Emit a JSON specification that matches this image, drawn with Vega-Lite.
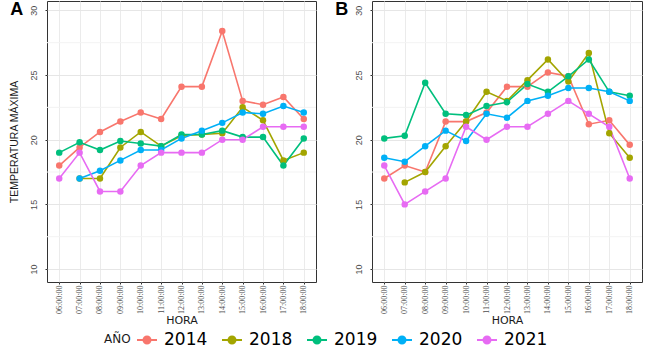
{
  "$schema": "https://vega.github.io/schema/vega-lite/v6.json",
  "padding": {"left": 8, "top": 0, "right": 4, "bottom": 0},
  "datasets": {
    "minor": [{"v": 12.5}, {"v": 17.5}, {"v": 22.5}, {"v": 27.5}],
    "temps": [
      {"p":"A","y":"2014","h":"06:00:00","t":18.0},{"p":"A","y":"2014","h":"07:00:00","t":19.4},{"p":"A","y":"2014","h":"08:00:00","t":20.6},{"p":"A","y":"2014","h":"09:00:00","t":21.4},{"p":"A","y":"2014","h":"10:00:00","t":22.1},{"p":"A","y":"2014","h":"11:00:00","t":21.6},{"p":"A","y":"2014","h":"12:00:00","t":24.1},{"p":"A","y":"2014","h":"13:00:00","t":24.1},{"p":"A","y":"2014","h":"14:00:00","t":28.4},{"p":"A","y":"2014","h":"15:00:00","t":23.0},{"p":"A","y":"2014","h":"16:00:00","t":22.7},{"p":"A","y":"2014","h":"17:00:00","t":23.3},{"p":"A","y":"2014","h":"18:00:00","t":21.6},
      {"p":"A","y":"2018","h":"07:00:00","t":17.0},{"p":"A","y":"2018","h":"08:00:00","t":17.0},{"p":"A","y":"2018","h":"09:00:00","t":19.4},{"p":"A","y":"2018","h":"10:00:00","t":20.6},{"p":"A","y":"2018","h":"11:00:00","t":19.5},{"p":"A","y":"2018","h":"12:00:00","t":20.3},{"p":"A","y":"2018","h":"13:00:00","t":20.4},{"p":"A","y":"2018","h":"14:00:00","t":20.5},{"p":"A","y":"2018","h":"15:00:00","t":22.5},{"p":"A","y":"2018","h":"16:00:00","t":21.5},{"p":"A","y":"2018","h":"17:00:00","t":18.4},{"p":"A","y":"2018","h":"18:00:00","t":19.0},
      {"p":"A","y":"2019","h":"06:00:00","t":19.0},{"p":"A","y":"2019","h":"07:00:00","t":19.8},{"p":"A","y":"2019","h":"08:00:00","t":19.2},{"p":"A","y":"2019","h":"09:00:00","t":19.9},{"p":"A","y":"2019","h":"10:00:00","t":19.7},{"p":"A","y":"2019","h":"11:00:00","t":19.5},{"p":"A","y":"2019","h":"12:00:00","t":20.4},{"p":"A","y":"2019","h":"13:00:00","t":20.4},{"p":"A","y":"2019","h":"14:00:00","t":20.7},{"p":"A","y":"2019","h":"15:00:00","t":20.2},{"p":"A","y":"2019","h":"16:00:00","t":20.2},{"p":"A","y":"2019","h":"17:00:00","t":18.0},{"p":"A","y":"2019","h":"18:00:00","t":20.1},
      {"p":"A","y":"2020","h":"07:00:00","t":17.0},{"p":"A","y":"2020","h":"08:00:00","t":17.6},{"p":"A","y":"2020","h":"09:00:00","t":18.4},{"p":"A","y":"2020","h":"10:00:00","t":19.2},{"p":"A","y":"2020","h":"11:00:00","t":19.2},{"p":"A","y":"2020","h":"12:00:00","t":20.1},{"p":"A","y":"2020","h":"13:00:00","t":20.7},{"p":"A","y":"2020","h":"14:00:00","t":21.3},{"p":"A","y":"2020","h":"15:00:00","t":22.1},{"p":"A","y":"2020","h":"16:00:00","t":22.0},{"p":"A","y":"2020","h":"17:00:00","t":22.6},{"p":"A","y":"2020","h":"18:00:00","t":22.1},
      {"p":"A","y":"2021","h":"06:00:00","t":17.0},{"p":"A","y":"2021","h":"07:00:00","t":19.0},{"p":"A","y":"2021","h":"08:00:00","t":16.0},{"p":"A","y":"2021","h":"09:00:00","t":16.0},{"p":"A","y":"2021","h":"10:00:00","t":18.0},{"p":"A","y":"2021","h":"11:00:00","t":19.0},{"p":"A","y":"2021","h":"12:00:00","t":19.0},{"p":"A","y":"2021","h":"13:00:00","t":19.0},{"p":"A","y":"2021","h":"14:00:00","t":20.0},{"p":"A","y":"2021","h":"15:00:00","t":20.0},{"p":"A","y":"2021","h":"16:00:00","t":21.0},{"p":"A","y":"2021","h":"17:00:00","t":21.0},{"p":"A","y":"2021","h":"18:00:00","t":21.0},
      {"p":"B","y":"2014","h":"06:00:00","t":17.0},{"p":"B","y":"2014","h":"07:00:00","t":18.0},{"p":"B","y":"2014","h":"08:00:00","t":17.5},{"p":"B","y":"2014","h":"09:00:00","t":21.4},{"p":"B","y":"2014","h":"10:00:00","t":21.4},{"p":"B","y":"2014","h":"11:00:00","t":22.1},{"p":"B","y":"2014","h":"12:00:00","t":24.1},{"p":"B","y":"2014","h":"13:00:00","t":24.1},{"p":"B","y":"2014","h":"14:00:00","t":25.2},{"p":"B","y":"2014","h":"15:00:00","t":24.9},{"p":"B","y":"2014","h":"16:00:00","t":21.2},{"p":"B","y":"2014","h":"17:00:00","t":21.5},{"p":"B","y":"2014","h":"18:00:00","t":19.6},
      {"p":"B","y":"2018","h":"07:00:00","t":16.7},{"p":"B","y":"2018","h":"08:00:00","t":17.5},{"p":"B","y":"2018","h":"09:00:00","t":19.5},{"p":"B","y":"2018","h":"10:00:00","t":21.4},{"p":"B","y":"2018","h":"11:00:00","t":23.7},{"p":"B","y":"2018","h":"12:00:00","t":23.0},{"p":"B","y":"2018","h":"13:00:00","t":24.6},{"p":"B","y":"2018","h":"14:00:00","t":26.2},{"p":"B","y":"2018","h":"15:00:00","t":24.5},{"p":"B","y":"2018","h":"16:00:00","t":26.7},{"p":"B","y":"2018","h":"17:00:00","t":20.5},{"p":"B","y":"2018","h":"18:00:00","t":18.6},
      {"p":"B","y":"2019","h":"06:00:00","t":20.1},{"p":"B","y":"2019","h":"07:00:00","t":20.3},{"p":"B","y":"2019","h":"08:00:00","t":24.4},{"p":"B","y":"2019","h":"09:00:00","t":22.0},{"p":"B","y":"2019","h":"10:00:00","t":21.9},{"p":"B","y":"2019","h":"11:00:00","t":22.6},{"p":"B","y":"2019","h":"12:00:00","t":22.9},{"p":"B","y":"2019","h":"13:00:00","t":24.3},{"p":"B","y":"2019","h":"14:00:00","t":23.7},{"p":"B","y":"2019","h":"15:00:00","t":24.9},{"p":"B","y":"2019","h":"16:00:00","t":26.2},{"p":"B","y":"2019","h":"17:00:00","t":23.7},{"p":"B","y":"2019","h":"18:00:00","t":23.4},
      {"p":"B","y":"2020","h":"06:00:00","t":18.6},{"p":"B","y":"2020","h":"07:00:00","t":18.3},{"p":"B","y":"2020","h":"08:00:00","t":19.5},{"p":"B","y":"2020","h":"09:00:00","t":20.7},{"p":"B","y":"2020","h":"10:00:00","t":19.9},{"p":"B","y":"2020","h":"11:00:00","t":22.0},{"p":"B","y":"2020","h":"12:00:00","t":21.7},{"p":"B","y":"2020","h":"13:00:00","t":23.0},{"p":"B","y":"2020","h":"14:00:00","t":23.4},{"p":"B","y":"2020","h":"15:00:00","t":24.0},{"p":"B","y":"2020","h":"16:00:00","t":24.0},{"p":"B","y":"2020","h":"17:00:00","t":23.7},{"p":"B","y":"2020","h":"18:00:00","t":23.0},
      {"p":"B","y":"2021","h":"06:00:00","t":18.0},{"p":"B","y":"2021","h":"07:00:00","t":15.0},{"p":"B","y":"2021","h":"08:00:00","t":16.0},{"p":"B","y":"2021","h":"09:00:00","t":17.0},{"p":"B","y":"2021","h":"10:00:00","t":21.0},{"p":"B","y":"2021","h":"11:00:00","t":20.0},{"p":"B","y":"2021","h":"12:00:00","t":21.0},{"p":"B","y":"2021","h":"13:00:00","t":21.0},{"p":"B","y":"2021","h":"14:00:00","t":22.0},{"p":"B","y":"2021","h":"15:00:00","t":23.0},{"p":"B","y":"2021","h":"16:00:00","t":22.0},{"p":"B","y":"2021","h":"17:00:00","t":21.0},{"p":"B","y":"2021","h":"18:00:00","t":17.0}
    ]
  },
  "spacing": 17,
  "hconcat": [
    {
      "width": 269,
      "height": 281,
      "layer": [
        {
          "data": {"name": "minor"},
          "mark": {"type": "rule", "color": "#f3f3f3", "strokeWidth": 1},
          "encoding": {
            "y": {"field": "v", "type": "quantitative", "scale": {"domain": [9, 30.72], "nice": false, "zero": false}}
          }
        },
        {
          "data": {"name": "temps"},
          "transform": [{"filter": "datum.p === 'A'"}],
          "mark": {"type": "line", "strokeWidth": 1.6},
          "encoding": {
            "x": {"field": "h", "type": "ordinal", "scale": {"type": "point", "padding": 0.6}, "axis": {"title": "HORA", "labelOverlap": false}},
            "y": {"field": "t", "type": "quantitative", "scale": {"domain": [9, 30.72], "nice": false, "zero": false}, "axis": {"title": "TEMPERATURA MÁXIMA", "values": [10, 15, 20, 25, 30], "labelOverlap": false, "labelBound": false}},
            "color": {"field": "y", "type": "nominal", "title": "AÑO"}
          }
        },
        {
          "data": {"name": "temps"},
          "transform": [{"filter": "datum.p === 'A'"}],
          "mark": {"type": "point", "filled": true, "size": 42, "opacity": 1},
          "encoding": {
            "x": {"field": "h", "type": "ordinal"},
            "y": {"field": "t", "type": "quantitative"},
            "color": {"field": "y", "type": "nominal", "title": "AÑO"}
          }
        },
        {
          "data": {"values": [{"lbl": "A"}]},
          "mark": {"type": "text", "align": "left", "baseline": "top", "dx": -49, "fontSize": 18, "fontWeight": "bold", "font": "Liberation Sans", "color": "black", "clip": false},
          "encoding": {
            "text": {"field": "lbl"},
            "x": {"datum": "06:00:00", "type": "ordinal"},
            "y": {"datum": 30.72, "type": "quantitative"}
          }
        }
      ]
    },
    {
      "width": 270,
      "height": 281,
      "layer": [
        {
          "data": {"name": "minor"},
          "mark": {"type": "rule", "color": "#f3f3f3", "strokeWidth": 1},
          "encoding": {
            "y": {"field": "v", "type": "quantitative", "scale": {"domain": [9, 30.72], "nice": false, "zero": false}}
          }
        },
        {
          "data": {"name": "temps"},
          "transform": [{"filter": "datum.p === 'B'"}],
          "mark": {"type": "line", "strokeWidth": 1.6},
          "encoding": {
            "x": {"field": "h", "type": "ordinal", "scale": {"type": "point", "padding": 0.6}, "axis": {"title": "HORA", "labelOverlap": false}},
            "y": {"field": "t", "type": "quantitative", "scale": {"domain": [9, 30.72], "nice": false, "zero": false}, "axis": {"title": null, "values": [10, 15, 20, 25, 30], "labelOverlap": false, "labelBound": false}},
            "color": {"field": "y", "type": "nominal", "title": "AÑO"}
          }
        },
        {
          "data": {"name": "temps"},
          "transform": [{"filter": "datum.p === 'B'"}],
          "mark": {"type": "point", "filled": true, "size": 42, "opacity": 1},
          "encoding": {
            "x": {"field": "h", "type": "ordinal"},
            "y": {"field": "t", "type": "quantitative"},
            "color": {"field": "y", "type": "nominal", "title": "AÑO"}
          }
        },
        {
          "data": {"values": [{"lbl": "B"}]},
          "mark": {"type": "text", "align": "left", "baseline": "top", "dx": -49, "fontSize": 18, "fontWeight": "bold", "font": "Liberation Sans", "color": "black", "clip": false},
          "encoding": {
            "text": {"field": "lbl"},
            "x": {"datum": "06:00:00", "type": "ordinal"},
            "y": {"datum": 30.72, "type": "quantitative"}
          }
        }
      ]
    }
  ],
  "resolve": {"scale": {"color": "shared"}},
  "config": {
    "font": "Liberation Sans",
    "view": {"stroke": "#333333", "strokeWidth": 1},
    "range": {"category": ["#F8766D", "#A3A500", "#00BF7D", "#00B0F6", "#E76BF3"]},
    "axis": {
      "domain": false,
      "grid": true,
      "gridColor": "#e6e6e6",
      "labelColor": "#4d4d4d",
      "labelFont": "Liberation Sans",
      "labelFontSize": 9,
      "tickColor": "#333333",
      "tickSize": 2,
      "titleFontWeight": "normal",
      "titleColor": "#1a1a1a"
    },
    "axisX": {
      "labelAngle": -90,
      "labelAlign": "right",
      "labelBaseline": "middle",
      "labelPadding": 1,
      "labelFont": "Liberation Sans Narrow",
      "labelFontSize": 8,
      "gridColor": "#ebebeb",
      "titleFont": "DejaVu Sans",
      "titleFontSize": 11,
      "titlePadding": 1
    },
    "axisY": {
      "labelAngle": -90,
      "labelAlign": "center",
      "labelBaseline": "bottom",
      "labelPadding": 7,
      "titleFontSize": 10.5,
      "titlePadding": 10
    },
    "legend": {
      "orient": "bottom",
      "direction": "horizontal",
      "titleOrient": "left",
      "titleFont": "DejaVu Sans",
      "titleFontSize": 12,
      "titleFontWeight": "normal",
      "titleColor": "#1a1a1a",
      "labelFont": "DejaVu Sans",
      "labelFontSize": 17,
      "labelColor": "black",
      "symbolType": "M-1,0L1,0M-0.35,0A0.35,0.35,0,1,1,0.35,0A0.35,0.35,0,1,1,-0.35,0",
      "symbolSize": 400,
      "symbolStrokeWidth": 2,
      "columnPadding": 10,
      "labelOffset": 6,
      "offset": 3,
      "layout": {"bottom": {"anchor": "middle"}}
    }
  },
  "encoding": {}
}
